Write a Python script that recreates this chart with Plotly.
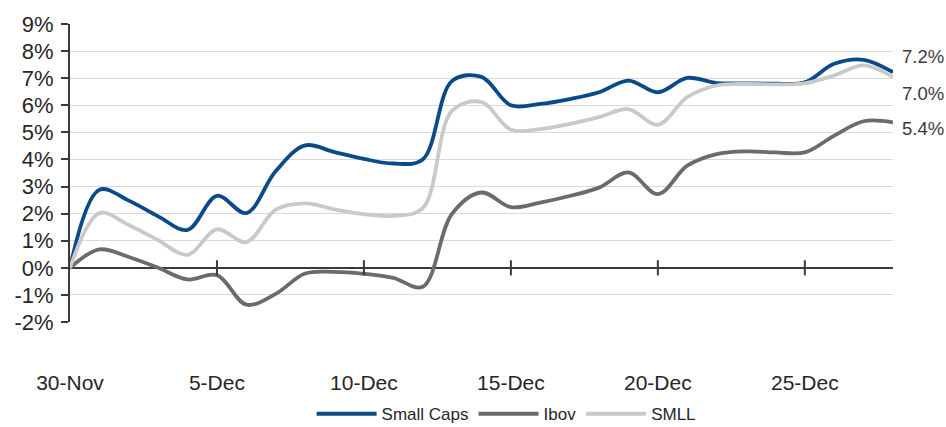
import pandas as pd
import plotly.graph_objects as go

dates = pd.date_range("2020-11-30", "2020-12-28", freq="D")

small_caps = [0.00, 2.88, 2.48, 1.90, 1.40, 2.66, 2.02, 3.57, 4.52, 4.27, 4.02, 3.85, 4.00,
              6.90, 7.05, 6.00, 6.05, 6.23, 6.48, 6.91, 6.48, 7.01, 6.82, 6.81, 6.80, 6.85,
              7.53, 7.68, 7.22]
ibov = [0.00, 0.68, 0.40, 0.00, -0.43, -0.27, -1.36, -0.96, -0.21, -0.15, -0.22, -0.37, -0.70,
        2.00, 2.78, 2.24, 2.41, 2.65, 2.96, 3.52, 2.72, 3.77, 4.20, 4.30, 4.26, 4.26,
        4.88, 5.41, 5.37]
smll = [0.00, 2.02, 1.58, 1.02, 0.48, 1.42, 0.95, 2.15, 2.38, 2.16, 1.98, 1.92, 2.20,
        5.80, 6.12, 5.10, 5.12, 5.31, 5.56, 5.86, 5.28, 6.30, 6.73, 6.79, 6.77, 6.81,
        7.10, 7.47, 7.04]

series_names = ["Small Caps", "Ibov", "SMLL"]
series_values = [small_caps, ibov, smll]
series_colors = ["#0b4a88", "#6b6b6b", "#c9c9c9"]

x_tick_dates = ["2020-11-30", "2020-12-05", "2020-12-10", "2020-12-15", "2020-12-20", "2020-12-25"]
x_tick_text = ["30-Nov", "5-Dec", "10-Dec", "15-Dec", "20-Dec", "25-Dec"]
y_tick_vals = [-2, -1, 0, 1, 2, 3, 4, 5, 6, 7, 8, 9]
y_tick_text = ["-2%", "-1%", "0%", "1%", "2%", "3%", "4%", "5%", "6%", "7%", "8%", "9%"]

end_label_shift = [16, -6, -16]

FONT = "Liberation Sans, Arial, sans-serif"
TXT = "#262626"

fig = go.Figure()
for name, vals, col in zip(series_names, series_values, series_colors):
    fig.add_trace(go.Scatter(x=dates, y=vals, name=name, mode="lines",
                             line=dict(color=col, width=3.8, shape="spline", smoothing=1.0),
                             hoverinfo="skip"))

for vals, col, ys in zip(series_values, series_colors, end_label_shift):
    fig.add_annotation(x=dates[-1], y=vals[-1], text=f"{vals[-1]:.1f}%", showarrow=False,
                       xanchor="left", yanchor="middle", xshift=7, yshift=ys,
                       font=dict(family=FONT, size=18.5, color="#3a3a3a"))

# cross ticks on the zero line
for d in x_tick_dates[1:]:
    fig.add_shape(type="line", xref="x", yref="y", x0=d, x1=d, y0=-0.28, y1=0.28,
                  line=dict(color="#3a3a3a", width=2), layer="above")

fig.update_layout(
    width=946, height=427,
    margin=dict(l=70, r=53, t=24, b=105),
    paper_bgcolor="white", plot_bgcolor="white",
    font=dict(family=FONT, color=TXT),
    showlegend=True,
    legend=dict(orientation="h", xref="container", yref="container",
                x=0.535, xanchor="center", y=0.03, yanchor="middle",
                itemwidth=60, tracegroupgap=0,
                font=dict(family=FONT, size=17, color=TXT), bgcolor="rgba(0,0,0,0)"),
    xaxis=dict(range=[dates[0], dates[-1]], tickvals=x_tick_dates, ticktext=x_tick_text,
               showgrid=False, zeroline=False, showline=False, ticks="", automargin=False,
               ticklabelstandoff=46, tickfont=dict(family=FONT, size=21, color=TXT)),
    yaxis=dict(range=[-2, 9], tickvals=y_tick_vals, ticktext=y_tick_text, automargin=False,
               showgrid=True, gridcolor="#d9d9d9", gridwidth=1.2,
               zeroline=True, zerolinecolor="#3a3a3a", zerolinewidth=2,
               showline=True, linecolor="#3a3a3a", linewidth=2,
               ticks="outside", ticklen=7, tickwidth=2, tickcolor="#3a3a3a",
               ticklabelstandoff=3, tickfont=dict(family=FONT, size=22, color=TXT)),
)

fig.write_html("out.html")
